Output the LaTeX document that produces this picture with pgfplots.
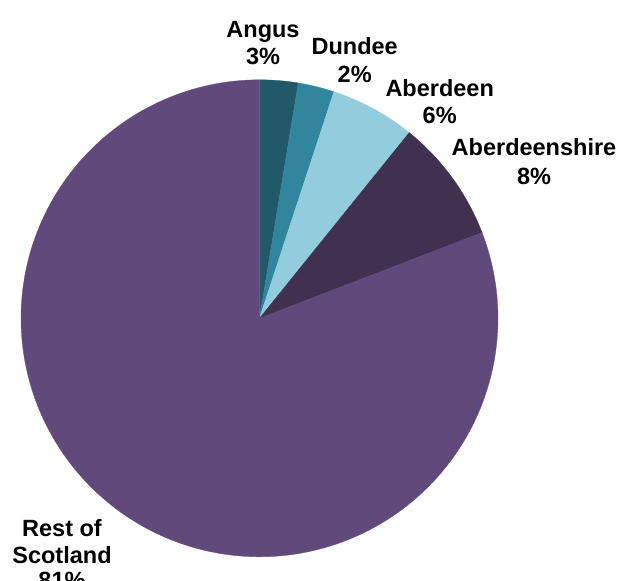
\documentclass[border=0pt]{standalone}
\usepackage{pgfplots}
\pgfplotsset{compat=1.18}
\usepackage{fontspec}
\setmainfont{Liberation Sans}
\definecolor{cAngus}{HTML}{215968}
\definecolor{cDundee}{HTML}{31859C}
\definecolor{cAberdeen}{HTML}{93CDDD}
\definecolor{cShire}{HTML}{403151}
\definecolor{cRest}{HTML}{604A7B}
\begin{document}
\begin{tikzpicture}
% shares in percent (Angus, Dundee, Aberdeen, Aberdeenshire, Rest of Scotland)
\def\vA{2.6}\def\vB{2.45}\def\vC{5.75}\def\vD{8.35}\def\vE{80.85}
\pgfmathsetmacro\aO{90}
\pgfmathsetmacro\aA{\aO-3.6*\vA}
\pgfmathsetmacro\aB{\aA-3.6*\vB}
\pgfmathsetmacro\aC{\aB-3.6*\vC}
\pgfmathsetmacro\aD{\aC-3.6*\vD}
\pgfmathsetmacro\aE{\aD-3.6*\vE}
\def\cx{259.5}\def\cy{262.7}\def\r{238.5}
\begin{axis}[
  name=pie,
  width=619pt, height=581pt, scale only axis,
  xmin=0, xmax=619, ymin=0, ymax=581,
  hide axis, clip=false,
  samples=90, variable=\t,
]
\addplot[fill=cAngus, draw=cAngus, line width=0.3pt, domain=\aA:\aO] ({\cx+\r*cos(\t)},{\cy+\r*sin(\t)}) -- (axis cs:\cx,\cy) -- cycle;
\addplot[fill=cDundee, draw=cDundee, line width=0.3pt, domain=\aB:\aA] ({\cx+\r*cos(\t)},{\cy+\r*sin(\t)}) -- (axis cs:\cx,\cy) -- cycle;
\addplot[fill=cAberdeen, draw=cAberdeen, line width=0.3pt, domain=\aC:\aB] ({\cx+\r*cos(\t)},{\cy+\r*sin(\t)}) -- (axis cs:\cx,\cy) -- cycle;
\addplot[fill=cShire, draw=cShire, line width=0.3pt, domain=\aD:\aC] ({\cx+\r*cos(\t)},{\cy+\r*sin(\t)}) -- (axis cs:\cx,\cy) -- cycle;
\addplot[fill=cRest, draw=cRest, line width=0.3pt, domain=\aE:\aD, samples=200] ({\cx+\r*cos(\t)},{\cy+\r*sin(\t)}) -- (axis cs:\cx,\cy) -- cycle;
\tikzset{lbl/.style={anchor=base, inner sep=0pt, font=\fontsize{23.5}{27}\selectfont\bfseries}}
\node[lbl] at (axis cs:263,543.7) {Angus};
\node[lbl] at (axis cs:263,516) {3\%};
\node[lbl] at (axis cs:354.7,526.7) {Dundee};
\node[lbl] at (axis cs:354.7,498.3) {2\%};
\node[lbl] at (axis cs:439.7,484.3) {Aberdeen};
\node[lbl] at (axis cs:439.7,457) {6\%};
\node[lbl] at (axis cs:534,425) {Aberdeenshire};
\node[lbl] at (axis cs:534,396.7) {8\%};
\node[lbl] at (axis cs:62,44.3) {Rest of};
\node[lbl] at (axis cs:62,17) {Scotland};
\node[lbl] at (axis cs:62,-8) {81\%};
\end{axis}
\pgfresetboundingbox
\path[use as bounding box] (pie.south west) rectangle (pie.north east);
\end{tikzpicture}
\end{document}
